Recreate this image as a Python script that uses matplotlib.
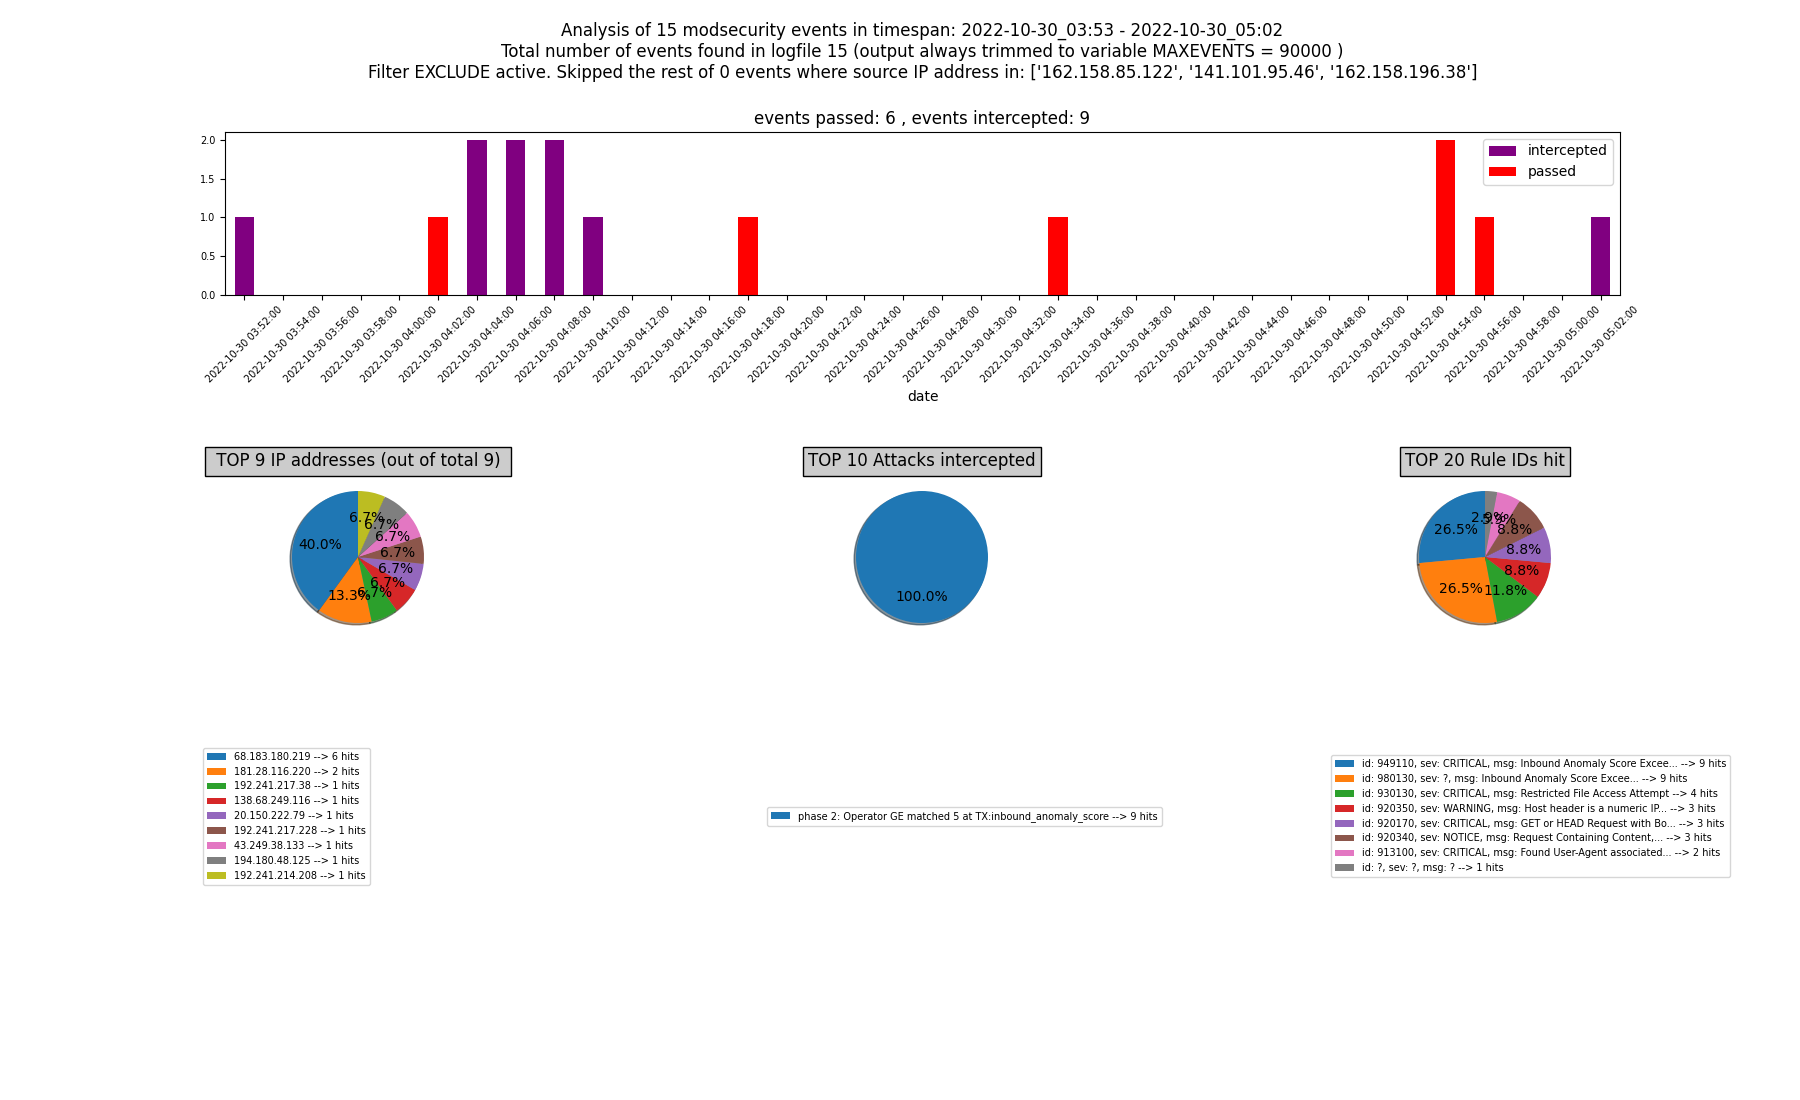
import matplotlib
matplotlib.use('Agg')
import matplotlib.pyplot as plt

# bar chart data (2 minute buckets)
dates = ['2022-10-30 03:52:00', '2022-10-30 03:54:00', '2022-10-30 03:56:00', '2022-10-30 03:58:00',
         '2022-10-30 04:00:00', '2022-10-30 04:02:00', '2022-10-30 04:04:00', '2022-10-30 04:06:00',
         '2022-10-30 04:08:00', '2022-10-30 04:10:00', '2022-10-30 04:12:00', '2022-10-30 04:14:00',
         '2022-10-30 04:16:00', '2022-10-30 04:18:00', '2022-10-30 04:20:00', '2022-10-30 04:22:00',
         '2022-10-30 04:24:00', '2022-10-30 04:26:00', '2022-10-30 04:28:00', '2022-10-30 04:30:00',
         '2022-10-30 04:32:00', '2022-10-30 04:34:00', '2022-10-30 04:36:00', '2022-10-30 04:38:00',
         '2022-10-30 04:40:00', '2022-10-30 04:42:00', '2022-10-30 04:44:00', '2022-10-30 04:46:00',
         '2022-10-30 04:48:00', '2022-10-30 04:50:00', '2022-10-30 04:52:00', '2022-10-30 04:54:00',
         '2022-10-30 04:56:00', '2022-10-30 04:58:00', '2022-10-30 05:00:00', '2022-10-30 05:02:00']
intercepted = [1, 0, 0, 0, 0, 0, 2, 2, 2, 1, 0, 0, 0, 0, 0, 0, 0, 0,
               0, 0, 0, 0, 0, 0, 0, 0, 0, 0, 0, 0, 0, 0, 0, 0, 0, 1]
passed = [0, 0, 0, 0, 0, 1, 0, 0, 0, 0, 0, 0, 0, 1, 0, 0, 0, 0,
          0, 0, 0, 1, 0, 0, 0, 0, 0, 0, 0, 0, 0, 2, 1, 0, 0, 0]

# pie data
ips = ['68.183.180.219', '181.28.116.220', '192.241.217.38', '138.68.249.116', '20.150.222.79',
       '192.241.217.228', '43.249.38.133', '194.180.48.125', '192.241.214.208']
ip_hits = [6, 2, 1, 1, 1, 1, 1, 1, 1]

attacks = ['phase 2: Operator GE matched 5 at TX:inbound_anomaly_score']
attack_hits = [9]

rules = ['id: 949110, sev: CRITICAL, msg: Inbound Anomaly Score Excee...',
         'id: 980130, sev: ?, msg: Inbound Anomaly Score Excee...',
         'id: 930130, sev: CRITICAL, msg: Restricted File Access Attempt',
         'id: 920350, sev: WARNING, msg: Host header is a numeric IP...',
         'id: 920170, sev: CRITICAL, msg: GET or HEAD Request with Bo...',
         'id: 920340, sev: NOTICE, msg: Request Containing Content,...',
         'id: 913100, sev: CRITICAL, msg: Found User-Agent associated...',
         'id: ?, sev: ?, msg: ?']
rule_hits = [9, 9, 4, 3, 3, 3, 2, 1]

fig = plt.figure(figsize=(18, 11), dpi=100)

fig.text(0.5125, 0.98,
         "Analysis of 15 modsecurity events in timespan: 2022-10-30_03:53 - 2022-10-30_05:02\n"
         "Total number of events found in logfile 15 (output always trimmed to variable MAXEVENTS = 90000 )\n"
         "Filter EXCLUDE active. Skipped the rest of 0 events where source IP address in: "
         "['162.158.85.122', '141.101.95.46', '162.158.196.38']",
         ha='center', va='top', fontsize=12)

# bar chart
ax = fig.add_axes([0.125, 0.7318, 0.775, 0.1482])
x = list(range(len(dates)))
ax.bar(x, intercepted, width=0.5, color='purple', label='intercepted')
ax.bar(x, passed, width=0.5, bottom=intercepted, color='red', label='passed')
ax.set_xlim(-0.5, len(dates) - 0.5)
ax.set_ylim(0, 2.1)
ax.set_yticks([0.0, 0.5, 1.0, 1.5, 2.0])
ax.set_xticks(x)
ax.set_xticklabels(dates, rotation=45, fontsize=7)
ax.tick_params(axis='y', labelsize=7)
ax.set_xlabel('date')
ax.set_title('events passed: 6 , events intercepted: 9', fontsize=12)
ax.legend(loc='upper right')

# pies
def pie_box(cx, cy):
    r = 82.5
    return [(cx - r) / 1800, (1100 - cy - r) / 1100, 2 * r / 1800, 2 * r / 1100]

box = dict(facecolor='0.8', edgecolor='black')
pies = [
    (358, ip_hits, ips, ' TOP 9 IP addresses (out of total 9) ', 0.1100),
    (922, attack_hits, attacks, 'TOP 10 Attacks intercepted', 0.4234),
    (1485, rule_hits, rules, 'TOP 20 Rule IDs hit', 0.7367),
]
for cx, hits, names, title, lx in pies:
    pax = fig.add_axes(pie_box(cx, 557))
    wedges, texts, autotexts = pax.pie(hits, autopct='%1.1f%%', shadow=True, startangle=90)
    pax.set_title(title, fontsize=12, bbox=box)
    labels = [n + ' --> ' + str(h) + ' hits' for n, h in zip(names, hits)]
    pax.legend(wedges, labels, loc='center left', fontsize=7,
               bbox_to_anchor=(lx, 0.258), bbox_transform=fig.transFigure)

plt.savefig('out.png')
